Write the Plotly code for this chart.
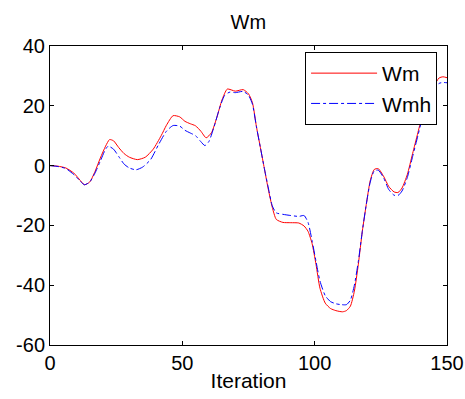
import plotly.graph_objects as go

iter_wm = [0, 3, 6, 9, 11, 13, 15, 17, 19, 21, 22.5, 24, 26, 28, 30, 33, 36, 39, 42, 44, 46.5, 49, 51, 53, 55, 57, 59, 61, 63, 65, 67, 70, 73, 75, 76.5, 78, 79.5, 81, 82.5, 84, 85.5, 88, 91, 94, 96, 97.5, 99, 100.5, 102, 104, 106, 108, 110.5, 112, 113.5, 115, 116.5, 118, 119.5, 121, 122.5, 124, 126, 128, 130, 131.5, 133, 135, 137, 139, 141, 143, 145, 147, 148.5, 150]
wm = [0, -0.2, -0.8, -2.5, -4.5, -6.4, -5.5, -2, 2.5, 6.5, 8.7, 8.3, 6, 4, 2.8, 2.0, 2.8, 5.5, 10, 13.5, 16.7, 16.3, 14.8, 14, 13.3, 11.5, 9.3, 11, 16, 22, 25.6, 24.9, 25.4, 24, 21, 13, 6, -1, -8, -14, -18, -19, -19.1, -19.2, -20.2, -22, -26, -33, -41, -46, -47.8, -48.5, -48.9, -48.5, -47, -42, -33, -22, -13, -5, -1.3, -1.0, -3.5, -7, -8.8, -9.0, -7.5, -3, 4, 11, 18, 23, 26.5, 29.3, 29.7, 29.4]

iter_wmh = [0, 3, 6, 9, 11, 13, 15, 17, 19, 21, 22, 24, 26, 28, 30, 32.5, 35, 38, 41, 44, 46.5, 49, 51, 53, 55, 57, 58.5, 60, 62, 64, 66, 68, 70, 73, 75, 76.5, 78, 79.5, 81, 82.5, 84, 85.5, 88, 91, 94, 96, 97.5, 99, 100.5, 102, 104, 106, 108, 110, 112, 113.5, 115, 116.5, 118, 119.5, 121, 122.5, 124, 126, 128, 130, 131.5, 133, 135, 137, 139, 141, 143, 145, 147, 148.5, 150]
wmh = [0, -0.3, -1, -3, -4.8, -6.4, -5.5, -2.5, 1.5, 5.5, 6.5, 5.5, 3, 0.5, -0.8, -1.4, -0.5, 2, 7, 11.5, 13.4, 13.2, 11.8, 10.9, 10, 8, 6.7, 8, 13, 19, 23.5, 24.6, 24.4, 24.8, 23.5, 20.5, 13, 6, -1, -7.5, -13.5, -15.8, -16.3, -16.7, -17, -16.7, -19, -25, -32, -38.6, -43.5, -45.5, -46.2, -46.5, -46.5, -45, -40, -32, -22, -13, -5.5, -1.8, -1.5, -4, -8, -9.9, -10, -8.5, -4, 3, 10, 17, 22, 25.5, 27.5, 27.8, 27.7]

x_ticks = [0, 50, 100, 150]
y_ticks = [-60, -40, -20, 0, 20, 40]

FONT = "Arial, Liberation Sans, sans-serif"

fig = go.Figure()
fig.add_trace(go.Scatter(x=iter_wm, y=wm, mode="lines", name="Wm",
                         line=dict(color="#ff0000", width=1, shape="spline", smoothing=0.6)))
fig.add_trace(go.Scatter(x=iter_wmh, y=wmh, mode="lines", name="Wmh",
                         line=dict(color="#0000ff", width=1, dash="dashdot", shape="spline", smoothing=0.6)))

axis_common = dict(showline=True, linecolor="black", linewidth=1, mirror="ticks",
                   ticks="inside", ticklen=4, tickcolor="black", showgrid=False,
                   zeroline=False, automargin=False,
                   tickfont=dict(family=FONT, size=20, color="black"))

fig.update_layout(
    width=465, height=399,
    margin=dict(l=50, r=18, t=46, b=54),
    paper_bgcolor="white", plot_bgcolor="white",
    title=dict(text="Wm", x=0.534, xanchor="center", y=0.945, yanchor="middle",
               font=dict(family=FONT, size=20, color="black")),
    xaxis=dict(range=[0, 150], tickvals=x_ticks, ticktext=[str(v) for v in x_ticks],
               title=dict(text="Iteration", font=dict(family=FONT, size=21, color="black"), standoff=0),
               **axis_common),
    yaxis=dict(range=[-60, 40], tickvals=y_ticks, ticktext=[str(v) for v in y_ticks],
               **axis_common),
    legend=dict(x=0.975, y=0.98, xanchor="right", yanchor="top",
                bgcolor="white", bordercolor="black", borderwidth=1,
                font=dict(family=FONT, size=21, color="black"),
                itemwidth=66, tracegroupgap=0),
    showlegend=True,
)

fig.write_html("out.html")
